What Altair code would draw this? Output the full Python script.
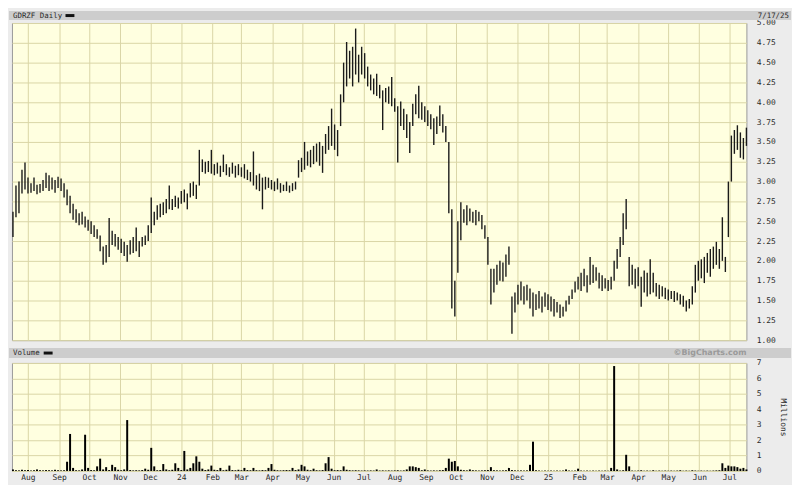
import altair as alt
import pandas as pd

TICKER = "GDRZF Daily"
END_LABEL = "7/17/25"
VOLUME_LABEL = "Volume"
CREDIT = "\u00a9BigCharts.com"
UNIT_LABEL = "Millions"
START = "2023-07-17"
STEP = "3D"

low = [
    2.30, 2.55, 2.60, 2.85, 2.90, 2.85, 2.86, 2.88, 2.84, 2.86,
    2.88, 2.92, 2.88, 2.90, 2.86, 2.92, 2.88, 2.80, 2.70, 2.60,
    2.52, 2.48, 2.45, 2.46, 2.42, 2.38, 2.34, 2.30, 2.28, 2.12,
    1.95, 1.98, 2.05, 2.20, 2.18, 2.14, 2.10, 2.06, 1.99, 2.08,
    2.10, 2.12, 2.05, 2.18, 2.20, 2.25, 2.35, 2.45, 2.52, 2.55,
    2.58, 2.60, 2.65, 2.64, 2.68, 2.66, 2.72, 2.74, 2.65, 2.80,
    2.82, 2.78, 2.95, 3.12, 3.10, 3.12, 3.10, 3.08, 3.10, 3.06,
    3.12, 3.08, 3.06, 3.10, 3.05, 3.08, 3.06, 3.04, 3.02, 3.00,
    2.95, 2.90, 2.88, 2.65, 2.90, 2.92, 2.90, 2.88, 2.90, 2.86,
    2.88, 2.88, 2.86, 2.88, 2.90, 3.05, 3.12, 3.15, 3.20, 3.18,
    3.22, 3.25, 3.20, 3.11, 3.35, 3.40, 3.45, 3.40, 3.32, 3.70,
    4.00, 4.20, 4.30, 4.20, 4.35, 4.25, 4.35, 4.30, 4.20, 4.15,
    4.10, 4.08, 4.05, 3.65, 4.00, 3.98, 3.95, 3.88, 3.24, 3.70,
    3.65, 3.55, 3.36, 3.70, 3.85, 3.80, 3.78, 3.75, 3.70, 3.66,
    3.46, 3.60, 3.70, 3.62, 3.50, 2.60, 1.40, 1.30, 1.85, 2.26,
    2.48, 2.45, 2.50, 2.48, 2.45, 2.50, 2.40, 2.28, 1.95, 1.45,
    1.60, 1.70, 1.75, 1.74, 1.80, 1.95, 1.08, 1.35, 1.45, 1.50,
    1.45, 1.50, 1.40, 1.30, 1.38, 1.40, 1.35, 1.42, 1.38, 1.36,
    1.30, 1.35, 1.28, 1.30, 1.36, 1.45, 1.52, 1.60, 1.64, 1.62,
    1.68, 1.60, 1.70, 1.72, 1.75, 1.65, 1.62, 1.65, 1.62, 1.64,
    1.75, 1.90, 2.05, 2.20, 2.40, 1.68, 1.70, 1.65, 1.68, 1.42,
    1.60, 1.55, 1.58, 1.60, 1.55, 1.52, 1.55, 1.52, 1.50, 1.52,
    1.48, 1.50, 1.45, 1.42, 1.36, 1.40, 1.45, 1.60, 1.75, 1.78,
    1.72, 1.85, 1.80, 1.90, 1.95, 1.90, 2.00, 1.86, 2.30, 3.00,
    3.35, 3.40, 3.30, 3.28, 3.45,
]

high = [
    2.62, 2.95, 3.00, 3.15, 3.24, 3.05, 2.98, 3.05, 2.96, 2.97,
    3.02, 3.11, 3.08, 3.05, 3.02, 3.06, 3.04, 2.98, 2.90, 2.82,
    2.72, 2.65, 2.60, 2.62, 2.56, 2.52, 2.50, 2.45, 2.40, 2.32,
    2.18, 2.20, 2.54, 2.38, 2.34, 2.30, 2.28, 2.24, 2.20, 2.26,
    2.30, 2.42, 2.25, 2.30, 2.32, 2.45, 2.80, 2.62, 2.70, 2.72,
    2.74, 2.78, 2.95, 2.78, 2.82, 2.80, 2.88, 2.90, 2.85, 2.98,
    3.00, 2.96, 3.40, 3.28, 3.25, 3.26, 3.40, 3.22, 3.24, 3.20,
    3.34, 3.22, 3.18, 3.24, 3.20, 3.22, 3.18, 3.22, 3.15, 3.12,
    3.38, 3.08, 3.10, 3.05, 3.06, 3.05, 3.02, 3.00, 3.04, 2.98,
    2.96, 3.00, 2.95, 2.98, 3.00, 3.27, 3.30, 3.50, 3.38, 3.40,
    3.45, 3.48, 3.50, 3.45, 3.60, 3.70, 3.92, 3.72, 3.65, 4.10,
    4.50, 4.76, 4.65, 4.70, 4.93, 4.60, 4.70, 4.62, 4.45, 4.35,
    4.30, 4.36, 4.22, 4.15, 4.18, 4.20, 4.32, 4.05, 3.95, 4.01,
    3.92, 3.85, 3.75, 3.98, 4.10, 4.21, 4.00, 3.95, 3.90, 3.85,
    3.80, 3.82, 3.96, 3.85, 3.70, 3.50, 2.65, 1.75, 2.50, 2.74,
    2.65, 2.70, 2.66, 2.62, 2.64, 2.62, 2.58, 2.45, 2.30, 1.90,
    1.90, 1.95, 2.00, 1.98, 2.08, 2.18, 1.55, 1.60, 1.70, 1.74,
    1.68, 1.70, 1.65, 1.60, 1.58, 1.62, 1.55, 1.60, 1.58, 1.55,
    1.52, 1.48, 1.45, 1.42, 1.50, 1.56, 1.64, 1.74, 1.80, 1.85,
    1.90, 1.82, 2.05, 1.95, 1.92, 1.85, 1.82, 1.78, 1.76, 1.80,
    2.00, 2.15, 2.30, 2.60, 2.78, 2.05, 1.95, 1.90, 1.92, 1.80,
    1.88, 1.85, 2.02, 1.85, 1.72, 1.70, 1.68, 1.66, 1.64, 1.62,
    1.62, 1.60, 1.58, 1.56, 1.50, 1.52, 1.68, 1.95, 2.00, 2.02,
    2.05, 2.10, 2.15, 2.18, 2.24, 2.15, 2.55, 2.05, 3.00, 3.58,
    3.65, 3.71, 3.62, 3.55, 3.68,
]

volume = [
    0.10, 0.05, 0.04, 0.08, 0.05, 0.06, 0.04, 0.05, 0.10, 0.05,
    0.04, 0.06, 0.05, 0.04, 0.08, 0.05, 0.04, 0.05, 0.60, 2.40,
    0.20, 0.05, 0.04, 0.10, 2.35, 0.20, 0.06, 0.05, 0.30, 0.80,
    0.10, 0.25, 0.06, 0.40, 0.25, 0.08, 0.05, 0.10, 3.30, 0.06,
    0.04, 0.05, 0.04, 0.06, 0.15, 0.08, 1.50, 0.30, 0.05, 0.06,
    0.45, 0.10, 0.05, 0.08, 0.50, 0.20, 0.06, 1.30, 0.10, 0.20,
    0.50, 0.95, 0.60, 0.15, 0.06, 0.10, 0.35, 0.08, 0.06, 0.20,
    0.05, 0.08, 0.35, 0.06, 0.05, 0.08, 0.05, 0.20, 0.06, 0.05,
    0.20, 0.05, 0.04, 0.06, 0.05, 0.20, 0.45, 0.08, 0.05, 0.04,
    0.05, 0.06, 0.05, 0.20, 0.06, 0.10, 0.40, 0.30, 0.08, 0.05,
    0.15, 0.05, 0.04, 0.06, 0.50, 0.90, 0.15, 0.05, 0.06, 0.05,
    0.30, 0.08, 0.05, 0.04, 0.05, 0.04, 0.03, 0.04, 0.03, 0.04,
    0.03, 0.10, 0.03, 0.04, 0.03, 0.04, 0.03, 0.04, 0.05, 0.03,
    0.04, 0.10, 0.30, 0.30, 0.25, 0.20, 0.05, 0.10, 0.04, 0.03,
    0.04, 0.03, 0.05, 0.06, 0.20, 0.80, 0.60, 0.65, 0.30, 0.08,
    0.05, 0.04, 0.10, 0.05, 0.04, 0.03, 0.04, 0.05, 0.06, 0.25,
    0.05, 0.04, 0.03, 0.04, 0.05, 0.20, 0.06, 0.04, 0.03, 0.04,
    0.03, 0.04, 0.40, 1.90, 0.05, 0.03, 0.02, 0.03, 0.02, 0.03,
    0.02, 0.03, 0.02, 0.03, 0.10, 0.03, 0.02, 0.03, 0.15, 0.03,
    0.02, 0.03, 0.02, 0.03, 0.02, 0.03, 0.02, 0.03, 0.02, 0.20,
    6.80, 0.10, 0.03, 0.05, 1.05, 0.30, 0.03, 0.02, 0.03, 0.05,
    0.02, 0.03, 0.02, 0.05, 0.02, 0.03, 0.02, 0.03, 0.02, 0.03,
    0.02, 0.03, 0.05, 0.02, 0.03, 0.02, 0.05, 0.03, 0.02, 0.03,
    0.02, 0.03, 0.02, 0.03, 0.04, 0.05, 0.50, 0.20, 0.35, 0.30,
    0.30, 0.25, 0.15, 0.20, 0.10,
]

price_ticks = [1.00, 1.25, 1.50, 1.75, 2.00, 2.25, 2.50, 2.75, 3.00,
               3.25, 3.50, 3.75, 4.00, 4.25, 4.50, 4.75, 5.00]
volume_ticks = [0, 1, 2, 3, 4, 5, 6, 7]

dates = pd.date_range(START, periods=len(low), freq=STEP)
df = pd.DataFrame({"date": dates, "low": low, "high": high, "volume": volume})
one = pd.DataFrame({"k": [0]})

month_starts = [alt.DateTime(year=d.year, month=d.month, date=1)
                for d in pd.date_range("2023-08-01", "2025-07-01", freq="MS")]

BG = "#ececec"
HEADER = "#cdcdcd"
PLOT_BG = "#ffffe0"
GRID = "#dad6a6"
BORDER = "#9a9a9a"
TEXT = "#2a2a2a"
MONO = "DejaVu Sans Mono"
W = 741
FULL_RIGHT = 786

xscale = alt.Scale(domain=[alt.DateTime(year=2023, month=7, date=16),
                           alt.DateTime(year=2025, month=7, date=18)])

# ---------- price panel ----------
price_bars = alt.Chart(df).mark_rule(color="#1a1a1a", strokeWidth=1.4).encode(
    x=alt.X("date:T", scale=xscale, title=None,
            axis=alt.Axis(values=month_starts, labels=False, ticks=False,
                          domain=False, grid=True, gridColor=GRID)),
    y=alt.Y("low:Q", scale=alt.Scale(domain=[1, 5], nice=False, zero=False), title=None,
            axis=alt.Axis(orient="right", values=price_ticks, format=".2f",
                          ticks=False, domain=False, grid=True, gridColor=GRID,
                          labelPadding=10, labelAlign="left")),
    y2="high:Q",
)

p_head = alt.Chart(one).mark_rect(color=HEADER).encode(
    x=alt.value(-3), x2=alt.value(FULL_RIGHT), y=alt.value(-12), y2=alt.value(-3))
p_title = alt.Chart(one).mark_text(align="left", baseline="middle", font=MONO,
                                   fontSize=7.5, color=TEXT).encode(
    x=alt.value(1), y=alt.value(-7.5), text=alt.value(TICKER))
p_dash = alt.Chart(one).mark_rect(color="#111").encode(
    x=alt.value(54), x2=alt.value(63), y=alt.value(-9), y2=alt.value(-6))
p_date = alt.Chart(one).mark_text(align="right", baseline="middle", font=MONO,
                                  fontSize=7.5, color=TEXT).encode(
    x=alt.value(FULL_RIGHT - 2), y=alt.value(-7.5), text=alt.value(END_LABEL))

price = alt.layer(p_head, p_title, p_dash, p_date, price_bars).properties(width=W, height=320)

# ---------- volume panel ----------
vol_bars = alt.Chart(df).mark_rule(color="#000000", strokeWidth=2).encode(
    x=alt.X("date:T", scale=xscale, title=None,
            axis=alt.Axis(values=month_starts, ticks=False, domain=False, grid=True,
                          gridColor=GRID, labelPadding=3, labelFont=MONO, labelFontSize=8,
                          labelColor=TEXT,
                          labelExpr="month(datum.value) == 0 ? timeFormat(datum.value, '%y') : timeFormat(datum.value, '%b')")),
    y=alt.Y("volume:Q", scale=alt.Scale(domain=[0, 7], nice=False), title=None,
            axis=alt.Axis(orient="right", values=volume_ticks, format="d",
                          ticks=False, domain=False, grid=True, gridColor=GRID,
                          labelPadding=10, labelAlign="left")),
    y2=alt.datum(0),
)

v_head = alt.Chart(one).mark_rect(color=HEADER).encode(
    x=alt.value(-3), x2=alt.value(FULL_RIGHT), y=alt.value(-15), y2=alt.value(-5))
v_title = alt.Chart(one).mark_text(align="left", baseline="middle", font=MONO,
                                   fontSize=7.5, color=TEXT).encode(
    x=alt.value(1), y=alt.value(-10), text=alt.value(VOLUME_LABEL))
v_dash = alt.Chart(one).mark_rect(color="#111").encode(
    x=alt.value(32), x2=alt.value(41), y=alt.value(-11.5), y2=alt.value(-8.5))
v_credit = alt.Chart(one).mark_text(align="right", baseline="middle", font="DejaVu Sans",
                                    fontSize=8, fontWeight="bold", color="#9a9a9a").encode(
    x=alt.value(W), y=alt.value(-10), text=alt.value(CREDIT))
v_unit = alt.Chart(one).mark_text(align="center", baseline="middle", font=MONO,
                                  fontSize=8, angle=90, color=TEXT).encode(
    x=alt.value(778), y=alt.value(55), text=alt.value(UNIT_LABEL))

vol = alt.layer(v_head, v_title, v_dash, v_credit, v_unit, vol_bars).properties(width=W, height=109)

chart = alt.vconcat(price, vol, spacing=23, bounds="flush").properties(
    background=BG,
    padding={"left": 0, "top": 0, "right": 0, "bottom": 0},
).configure_view(
    fill=PLOT_BG, stroke=BORDER, strokeWidth=1
).configure_axis(
    labelFont=MONO, labelFontSize=8, labelColor=TEXT, gridWidth=1
)

chart.save("out.html", embed_options={"renderer": "svg", "actions": False})
